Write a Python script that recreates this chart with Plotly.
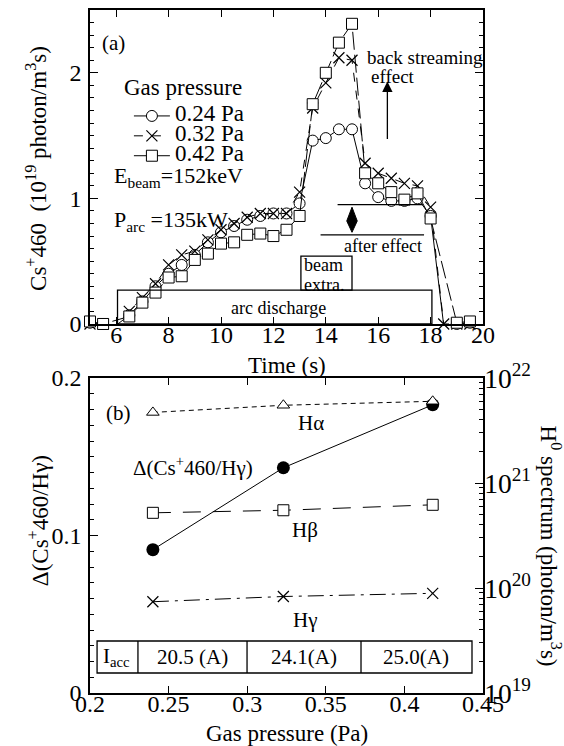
import plotly.graph_objects as go

FONT = "Liberation Serif, Times New Roman, serif"

# ---------------- panel (a) data ----------------
t_024 = [5.0, 5.5, 6.0, 6.5, 7.0, 7.5, 8.0, 8.5, 9.0, 9.5, 10.0, 10.5, 11.0, 11.5, 12.0, 12.5,
         13.0, 13.5, 14.0, 14.5, 15.0, 15.5, 16.0, 16.5, 17.0, 17.5, 18.0, 18.5, 19.0, 19.5]
v_024 = [0.01, 0.0, -0.01, 0.07, 0.18, 0.30, 0.40, 0.47, 0.55, 0.65, 0.73, 0.78, 0.83, 0.86, 0.88, 0.88,
         0.96, 1.46, 1.48, 1.55, 1.55, 1.12, 1.01, 0.98, 0.98, 1.00, 0.86, -0.01, 0.0, 0.01]

t_032 = [5.0, 5.5, 6.0, 6.5, 7.0, 7.5, 8.0, 8.5, 9.0, 9.5, 10.0, 10.5, 11.0, 11.5, 12.0, 12.5,
         13.0, 13.5, 14.0, 14.5, 15.0, 15.5, 16.0, 16.5, 17.0, 17.5, 18.0, 18.5, 19.0, 19.5]
v_032 = [0.0, 0.0, -0.01, 0.10, 0.21, 0.32, 0.47, 0.55, 0.58, 0.67, 0.75, 0.80, 0.85, 0.88, 0.88, 0.88,
         1.05, 1.72, 1.92, 2.12, 2.10, 1.28, 1.20, 1.16, 1.12, 1.10, 0.93, 0.0, 0.0, 0.0]

t_042 = [5.0, 5.5, 6.5, 7.0, 7.5, 8.0, 8.5, 9.0, 9.5, 10.0, 10.5, 11.0, 11.5, 12.0, 12.5,
         13.0, 13.5, 14.0, 14.5, 15.0, 15.5, 16.0, 16.5, 17.0, 17.5, 18.0, 19.0, 19.5]
v_042 = [0.02, 0.0, 0.06, 0.17, 0.25, 0.37, 0.38, 0.51, 0.56, 0.64, 0.65, 0.71, 0.72, 0.70, 0.75,
         0.86, 1.75, 2.00, 2.24, 2.39, 1.20, 1.12, 1.05, 0.99, 1.04, 0.84, 0.01, 0.02]

series_names = ["0.24 Pa", "0.32 Pa", "0.42 Pa"]
time_ticks = [6, 8, 10, 12, 14, 16, 18, 20]

# ---------------- panel (b) data ----------------
pressure = [0.240, 0.323, 0.418]
delta_cs = [0.091, 0.143, 0.183]
h_alpha = [4.7e21, 5.5e21, 6.0e21]
h_beta = [5.2e20, 5.5e20, 6.2e20]
h_gamma = [7.4e19, 8.3e19, 8.9e19]
iacc_labels = ["I<sub>acc</sub>", "20.5 (A)", "24.1(A)", "25.0(A)"]
iacc_centers = [0.217, 0.265, 0.336, 0.4075]
iacc_dividers = [0.2305, 0.2999, 0.3724]
pressure_ticks = [0.2, 0.25, 0.3, 0.35, 0.4, 0.45]
pressure_ticktext = ["0.2", "0.25", "0.3", "0.35", "0.4", "0.45"]


def legend_name(s):
    return '<span style="font-size:23px">' + s + '</span>'


fig = go.Figure()

# panel (a) traces
fig.add_trace(go.Scatter(x=t_024, y=v_024, name=legend_name(series_names[0]), mode="lines+markers",
                         line=dict(color="black", width=1),
                         marker=dict(symbol="circle", size=11, color="white",
                                     line=dict(color="black", width=1)),
                         cliponaxis=False, xaxis="x", yaxis="y"))
fig.add_trace(go.Scatter(x=t_032, y=v_032, name=legend_name(series_names[1]), mode="lines+markers",
                         line=dict(color="black", width=1, dash="dash"),
                         marker=dict(symbol="x-thin", size=11, color="black",
                                     line=dict(color="black", width=1.2)),
                         cliponaxis=False, xaxis="x", yaxis="y"))
fig.add_trace(go.Scatter(x=t_042, y=v_042, name=legend_name(series_names[2]), mode="lines+markers",
                         line=dict(color="black", width=1, dash="18px,5px"),
                         marker=dict(symbol="square", size=11, color="white",
                                     line=dict(color="black", width=1)),
                         cliponaxis=False, xaxis="x", yaxis="y"))

# panel (b) traces
fig.add_trace(go.Scatter(x=pressure, y=delta_cs, mode="lines+markers", showlegend=False,
                         line=dict(color="black", width=1),
                         marker=dict(symbol="circle", size=13, color="black"),
                         xaxis="x2", yaxis="y2"))
fig.add_trace(go.Scatter(x=pressure, y=h_alpha, mode="lines+markers", showlegend=False,
                         line=dict(color="black", width=1, dash="5px,4px"),
                         marker=dict(symbol="triangle-up", size=11, color="white",
                                     line=dict(color="black", width=1)),
                         xaxis="x2", yaxis="y3"))
fig.add_trace(go.Scatter(x=pressure, y=h_beta, mode="lines+markers", showlegend=False,
                         line=dict(color="black", width=1, dash="18px,12px"),
                         marker=dict(symbol="square", size=11, color="white",
                                     line=dict(color="black", width=1)),
                         xaxis="x2", yaxis="y3"))
fig.add_trace(go.Scatter(x=pressure, y=h_gamma, mode="lines+markers", showlegend=False,
                         line=dict(color="black", width=1, dash="16px,6px,3px,6px"),
                         marker=dict(symbol="x-thin", size=11, color="black",
                                     line=dict(color="black", width=1.2)),
                         xaxis="x2", yaxis="y3"))

axis_common = dict(showline=True, linecolor="black", linewidth=1.5, ticks="inside",
                   tickcolor="black", showgrid=False, zeroline=False, automargin=False)
tickfont = dict(family=FONT, size=24, color="black")

fig.update_layout(
    width=564, height=746,
    margin=dict(l=90, r=81, t=10, b=53, autoexpand=False),
    paper_bgcolor="white", plot_bgcolor="white",
    font=dict(family=FONT, color="black"),
    xaxis=dict(domain=[0, 1], anchor="y", range=[5, 20], tickvals=time_ticks,
               ticklen=7, mirror="ticks", ticklabelstandoff=-12, tickfont=tickfont,
               **axis_common),
    yaxis=dict(domain=[0.5403, 1], anchor="x", range=[0, 2.5], tickvals=[0, 1, 2],
               ticklen=8, mirror="ticks", ticklabelstandoff=2, tickfont=tickfont,
               minor=dict(dtick=0.1, tick0=0, ticks="inside", ticklen=4, tickcolor="black"),
               **axis_common),
    xaxis2=dict(domain=[0, 1], anchor="y2", range=[0.2, 0.45], tickvals=pressure_ticks,
                ticktext=pressure_ticktext, ticklen=7, mirror="ticks", ticklabelstandoff=-12,
                tickfont=tickfont, **axis_common),
    yaxis2=dict(domain=[0, 0.4612], anchor="x2", range=[0, 0.2], tickvals=[0, 0.1, 0.2],
                ticktext=["0", "0.1", "0.2"], ticklen=8, mirror=True, ticklabelstandoff=2,
                tickfont=tickfont,
                minor=dict(dtick=0.01, tick0=0, ticks="inside", ticklen=4, tickcolor="black"),
                **axis_common),
    yaxis3=dict(overlaying="y2", side="right", anchor="x2", type="log", range=[19, 22],
                dtick=1, exponentformat="power", ticklen=8, ticklabelstandoff=-5,
                tickfont=dict(family=FONT, size=22, color="black"),
                minor=dict(dtick="D1", ticks="inside", ticklen=4, tickcolor="black"),
                **axis_common),
    legend=dict(x=0.099, y=0.8668, xanchor="left", yanchor="top", bgcolor="rgba(0,0,0,0)",
                font=dict(family=FONT, size=13, color="black"), tracegroupgap=0,
                itemwidth=36),
)

shapes = [
    # arc discharge box
    dict(type="rect", xref="x", yref="y", x0=6.05, x1=18.05, y0=0, y1=0.27,
         line=dict(color="black", width=1.3)),
    # beam extraction box
    dict(type="rect", xref="x", yref="y", x0=13.05, x1=15.0, y0=0.27, y1=0.54,
         line=dict(color="black", width=1.3)),
    # after effect lines
    dict(type="line", xref="x", yref="y", x0=14.45, x1=17.7, y0=0.95, y1=0.95,
         line=dict(color="black", width=1.3)),
    dict(type="line", xref="x", yref="y", x0=13.8, x1=17.75, y0=0.71, y1=0.71,
         line=dict(color="black", width=1.3)),
    dict(type="path", xref="x", yref="y",
         path="M 15,0.93 L 15.2,0.82 L 15,0.73 L 14.8,0.82 Z",
         fillcolor="black", line=dict(color="black", width=1)),
    # I_acc table
    dict(type="rect", xref="x2", yref="y2", x0=0.2045, x1=0.443, y0=0.0127, y1=0.033,
         line=dict(color="black", width=1.3)),
]
for d in iacc_dividers:
    shapes.append(dict(type="line", xref="x2", yref="y2", x0=d, x1=d, y0=0.0127, y1=0.033,
                       line=dict(color="black", width=1.3)))
fig.update_layout(shapes=shapes)


def txt(x, y, text, size=20, xref="x", yref="y", xanchor="center", yanchor="middle", angle=0):
    return dict(x=x, y=y, text=text, xref=xref, yref=yref, showarrow=False,
                xanchor=xanchor, yanchor=yanchor, textangle=angle,
                font=dict(family=FONT, size=size, color="black"))


annotations = [
    txt(5.91, 2.24, "(a)", 21),
    txt(6.22, 1.88, "Gas pressure", 23, xanchor="left"),
    txt(5.84, 1.17, "E<sub>beam</sub>=152keV", 22, xanchor="left"),
    txt(5.84, 0.82, "P<sub>arc</sub> =135kW", 22, xanchor="left"),
    txt(12.2, 0.13, "arc discharge", 18),
    txt(13.1, 0.47, "beam", 18, xanchor="left"),
    txt(13.1, 0.31, "extra.", 18, xanchor="left"),
    txt(16.2, 0.62, "after effect", 18),
    txt(15.48, 2.12, "back streaming", 19, xanchor="left"),
    txt(15.63, 1.97, "effect", 19, xanchor="left"),
    dict(x=16.35, y=1.93, ax=16.35, ay=1.46, xref="x", yref="y", axref="x", ayref="y",
         text="", showarrow=True, arrowhead=2, arrowsize=1.6, arrowwidth=1.3,
         arrowcolor="black"),
    txt(0.5, 0.480, "Time (s)", 23, xref="paper", yref="paper"),
    txt(-0.135, 0.7687, "Cs<sup>+</sup>460  (10<sup>19</sup> photon/m<sup>3</sup>s)", 23,
        xref="paper", yref="paper", angle=-90),
    # panel (b)
    txt(0.2184, 0.178, "(b)", 21, xref="x2", yref="y2"),
    txt(0.3406, 0.1714, "Hα", 21, xref="x2", yref="y2"),
    txt(0.3368, 0.1035, "Hβ", 21, xref="x2", yref="y2"),
    txt(0.337, 0.0463, "Hγ", 21, xref="x2", yref="y2"),
    txt(0.2655, 0.1435, "Δ(Cs<sup>+</sup>460/Hγ)", 21, xref="x2", yref="y2"),
    txt(0.5, -0.059, "Gas pressure (Pa)", 23, xref="paper", yref="paper"),
    txt(-0.132, 0.2518, "Δ(Cs<sup>+</sup>460/Hγ)", 23, xref="paper", yref="paper", angle=-90),
    txt(1.172, 0.215, "H<sup>0</sup> spectrum (photon/m<sup>3</sup>s)", 23,
        xref="paper", yref="paper", angle=90),
]
for c, lab in zip(iacc_centers, iacc_labels):
    annotations.append(txt(c, 0.0228, lab, 21, xref="x2", yref="y2"))
fig.update_layout(annotations=annotations)

fig.write_html("out.html")
